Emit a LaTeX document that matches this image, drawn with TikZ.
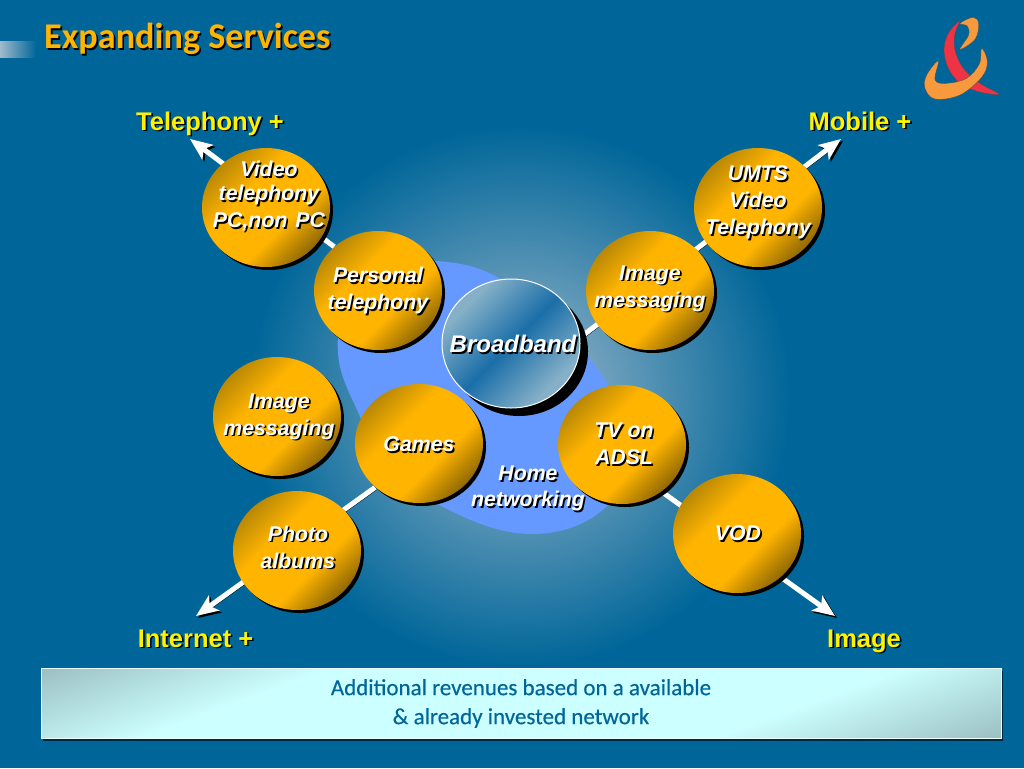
\documentclass[tikz,border=0pt]{standalone}
\usepackage{fontspec}
\usepackage{xcolor}
\usepackage{tikz}
\usetikzlibrary{positioning,shapes.geometric,arrows.meta,shadows,backgrounds}
\setmainfont{Liberation Sans}
\newfontfamily\humanfont{Carlito}
\newfontfamily\bannerfont[FakeBold=0.35]{Carlito}
\definecolor{bgblue}{HTML}{006699}
\definecolor{glowblue}{HTML}{A0BACC}
\definecolor{blobblue}{HTML}{6699FF}
\definecolor{ballgold}{HTML}{FFB400}
\definecolor{balldark}{HTML}{5E4604}
\definecolor{balledge}{HTML}{9A7408}
\definecolor{broadlight}{HTML}{85B0C8}
\definecolor{broaddark}{HTML}{1B6EA8}
\definecolor{bannerlight}{HTML}{CCFFFF}
\definecolor{bannerdark}{HTML}{9CC0C2}
\definecolor{logoorange}{HTML}{F79A3E}
\definecolor{logored}{HTML}{EE3344}
\pgfdeclareverticalshading{ballshade}{100bp}{color(0bp)=(balldark); color(18bp)=(balldark); color(40bp)=(ballgold); color(60bp)=(ballgold); color(82bp)=(balledge); color(100bp)=(balledge)}
\pgfdeclareverticalshading{broadshade}{100bp}{color(0bp)=(broadlight); color(28bp)=(broadlight); color(50bp)=(broaddark); color(72bp)=(broadlight); color(100bp)=(broadlight)}
\pgfdeclareverticalshading{bannershade}{100bp}{color(0bp)=(bannerdark); color(18bp)=(bannerdark); color(34bp)=(bannerlight); color(66bp)=(bannerlight); color(82bp)=(bannerdark); color(100bp)=(bannerdark)}
\pgfdeclareradialshading{glowshade}{\pgfpointorigin}{color(0bp)=(glowblue); color(25bp)=(bgblue); color(50bp)=(bgblue)}
\newcommand{\sh}[1]{\leavevmode\rlap{\raisebox{-1.6pt}{\hspace{1.6pt}\textcolor{black}{#1}}}#1}

\begin{document}
\begin{tikzpicture}[
    x=1pt, y=-1pt,
    ball/.style={
        ellipse, inner sep=0pt,
        minimum width=128pt, minimum height=119pt,
        shading=ballshade, shading angle=45,
        drop shadow={shadow xshift=3pt, shadow yshift=-3pt, fill=black, opacity=1}
    },
    balltext/.style={
        text=white, align=center, inner sep=0pt,
        font=\fontsize{21.3}{27}\selectfont\bfseries\itshape
    },
    axislabel/.style={
        text=yellow, inner sep=0pt, anchor=base,
        font=\fontsize{25.5}{30}\selectfont\bfseries
    },
    arrow/.style={
        -{Stealth[length=22pt, width=18pt, inset=5pt]}, line width=5pt, white,
        preaction={draw=black, transform canvas={shift={(2pt,-2pt)}}}
    }
]

\useasboundingbox (0,0) rectangle (1024,768);

% circles
\node[ball] (video) at (266,207.5) {};
\node[ball] (personal) at (378,290.5) {};
\node[ball] (imageleft) at (277,416.5) {};
\node[ball] (games) at (419,443.5) {};
\node[ball] (photo) at (297,550.5) {};
\node[ball] (imageright) at (650,290.5) {};
\node[ball] (umts) at (758,207.5) {};
\node[ball] (tvadsl) at (622,444.5) {};
\node[ball] (vod) at (737,533.5) {};
\node[ellipse, inner sep=0pt, minimum width=138pt, minimum height=129pt,
      draw=white, line width=1pt, shading=broadshade, shading angle=45,
      drop shadow={shadow xshift=8pt, shadow yshift=-8pt, fill=black, opacity=1}]
      (broadband) at (511,343.5) {};

% texts on the circles
\node[balltext] (videotext) at (269,197) {\sh{Video}\\[-3pt]\sh{telephony}\\\sh{PC,non \kern2pt PC}};
\node[balltext] (personaltext) at (378,291.5) {\sh{Personal}\\\sh{telephony}};
\node[balltext] (imagelefttext) at (279,417.5) {\sh{Image}\\\sh{messaging}};
\node[balltext] (gamestext) at (419,445) {\sh{Games}};
\node[balltext] (phototext) at (298,548) {\sh{Photo}\\\sh{albums}};
\node[balltext] (imagerighttext) at (650,289.5) {\sh{Image}\\\sh{messaging}};
\node[balltext] (umtstext) at (758,203.5) {\sh{UMTS}\\\sh{Video}\\\sh{Telephony}};
\node[balltext] (tvtext) at (624,445) {\sh{TV on}\\\sh{ADSL}};
\node[balltext] (vodtext) at (738,534) {\sh{VOD}};
\node[balltext] (hometext) at (528,489.5) {\sh{Home}\\[-1pt]\sh{networking}};
\node[balltext, font=\fontsize{24}{28}\selectfont\bfseries\itshape] (broadtext) at (513,345) {\sh{Broadband}};

% axis names
\node[axislabel] (telephony) at (210,130) {\sh{Telephony +}};
\node[axislabel] (mobile) at (860,130) {\sh{Mobile +}};
\node[axislabel] (internet) at (195.5,647) {\sh{Internet +}};
\node[axislabel] (imagelabel) at (864,647) {\sh{Image}};

% title and bottom box
\node[text=ballgold, inner sep=0pt, anchor=west, font=\humanfont\fontsize{36.2}{40}\selectfont\bfseries]
      (title) at (44,40) {\sh{Expanding Services}};
\node[rectangle, minimum width=960pt, minimum height=70pt, inner sep=0pt,
      draw=white!70!bannerlight, line width=1pt, shading=bannershade, shading angle=20,
      text=bgblue, align=center, font=\bannerfont\fontsize{23}{29}\selectfont,
      drop shadow={shadow xshift=2pt, shadow yshift=-2pt, fill=black!60!bgblue, opacity=1}]
      (revenues) at (521,703.5) {Additional revenues based on a available\\\& already invested network};

\coordinate (teltip) at (190,139);
\coordinate (mobtip) at (841,139);
\coordinate (inttip) at (196,616);
\coordinate (imgtip) at (835,616);

\begin{scope}[on background layer]
\fill[bgblue] (0,0) rectangle (1024,768);
\fill[left color=glowblue, right color=bgblue] (0,42) rectangle (36,58);
\shade[shading=glowshade] (520,396) circle [radius=270];
\fill[blobblue] plot[smooth cycle, tension=.7] coordinates {
    (437,261) (497,277) (555,325) (607,383) (624,450) (606,507) (532,534)
    (443,507) (385,460) (358,412) (338,353) (350,295) (385,266)};
\draw[arrow] (personal.135) -- (teltip);
\draw[arrow] (broadband.5) -- (mobtip);
\draw[arrow] (games.225) -- (inttip);
\draw[arrow] (tvadsl.-50) -- (imgtip);
\end{scope}

% logo
\begin{scope}[shift={(880,0)}, x=.3333pt, y=-.3333pt]
\fill[logored, draw=black!70, line width=.3pt] plot[smooth cycle, tension=.6] coordinates {
    (240,62) (205,100) (192,150) (205,205) (240,250) (295,275) (358,283)
    (300,250) (250,205) (225,150) (225,100)};
\fill[logoorange, draw=black!70, line width=.3pt] plot[smooth cycle, tension=.6] coordinates {
    (240,70) (280,52) (296,72) (285,118) (240,148) (266,105) (262,78)};
\fill[logoorange, draw=black!70, line width=.3pt] plot[smooth cycle, tension=.6] coordinates {
    (175,183) (140,225) (135,265) (165,297) (240,285) (305,232) (322,185) (305,145)
    (298,192) (260,235) (200,250) (165,240)};
\end{scope}

\end{tikzpicture}
\end{document}
